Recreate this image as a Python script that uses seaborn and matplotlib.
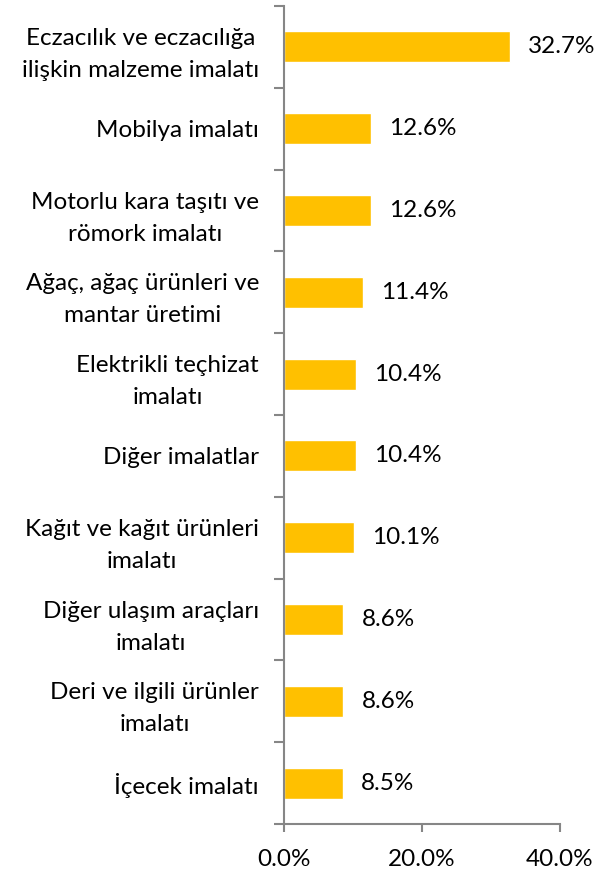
import matplotlib
matplotlib.use('Agg')
import matplotlib.pyplot as plt
import numpy as np
import pandas as pd
import seaborn as sns

categories = ['Eczacılık ve eczacılığa\nilişkin malzeme imalatı',
              'Mobilya imalatı',
              'Motorlu kara taşıtı ve\nrömork imalatı',
              'Ağaç, ağaç ürünleri ve\nmantar üretimi',
              'Elektrikli teçhizat\nimalatı',
              'Diğer imalatlar',
              'Kağıt ve kağıt ürünleri\nimalatı',
              'Diğer ulaşım araçları\nimalatı',
              'Deri ve ilgili ürünler\nimalatı',
              'İçecek imalatı']
values = [32.7, 12.6, 12.6, 11.4, 10.4, 10.4, 10.1, 8.6, 8.6, 8.5]
xticks = [0, 20, 40]

df = pd.DataFrame({'cat': categories, 'val': values})

sns.set_style('white')
plt.rcParams['font.family'] = ['Lato', 'DejaVu Sans']
fs = 17.5

fig = plt.figure(figsize=(6.05, 8.71), dpi=100)
ax = fig.add_axes([284 / 605, 1 - 824 / 871, (560 - 284) / 605, (824 - 6) / 871])

sns.barplot(data=df, x='val', y='cat', orient='h', color='#FFC000',
            width=0.38, saturation=1, ax=ax)

for i, v in enumerate(values):
    ax.annotate(f'{v:.1f}%', (v, i), xytext=(13, 0), textcoords='offset points',
                va='center', ha='left', fontsize=fs, color='black')

ax.set_xlim(0, 40)
ax.set_ylim(len(values) - 0.5, -0.5)
ax.set_xticks(xticks)
ax.set_xticklabels([f'{t:.1f}%' for t in xticks], fontsize=fs, color='black')
ax.set_yticks(range(len(values)))
ax.set_yticklabels(categories, fontsize=fs, color='black', multialignment='center',
                   linespacing=1.65)
ax.set_yticks(np.arange(-0.5, len(values), 1), minor=True)
ax.tick_params(left=True, bottom=True, which='both')
ax.tick_params(axis='y', which='major', length=0, pad=18)
ax.tick_params(axis='y', which='minor', length=7, width=1.5, color='#868686', direction='out')
ax.tick_params(axis='x', which='major', length=6, width=1.5, color='#868686', direction='out', pad=12)
ax.set_xlabel('')
ax.set_ylabel('')

for s in ['top', 'right']:
    ax.spines[s].set_visible(False)
for s in ['left', 'bottom']:
    ax.spines[s].set_color('#868686')
    ax.spines[s].set_linewidth(1.5)

fig.savefig('out.png', dpi=100)
